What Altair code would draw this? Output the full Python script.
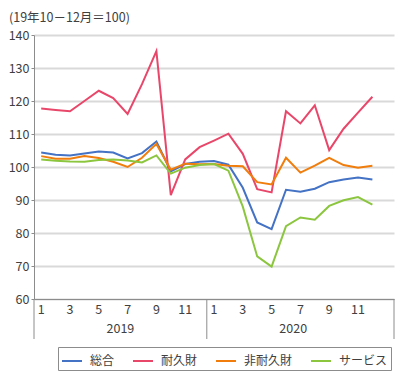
import altair as alt
import pandas as pd

FONT = "Noto Sans CJK JP"

title_text = "(19年10－12月＝100)"
years = ["2019", "2020"]
month_ticks = [1, 3, 5, 7, 9, 11]
series_names = ["総合", "耐久財", "非耐久財", "サービス"]
colors = ["#4472C4", "#E8476A", "#F07D0C", "#8CC63F"]

sogo = [104.4, 103.7, 103.5, 104.1, 104.7, 104.4, 102.6, 104.2, 107.7, 98.7, 100.9, 101.6,
        101.8, 100.7, 93.7, 83.2, 81.2, 93.1, 92.5, 93.4, 95.4, 96.2, 96.8, 96.2]
durable = [117.7, 117.3, 116.9, 120.0, 123.1, 120.9, 116.1, 125.1, 135.1, 91.5, 102.3, 106.0,
           108.0, 110.1, 104.0, 93.3, 92.3, 116.9, 113.2, 118.7, 105.1, 111.6, 116.5, 121.3]
nondurable = [103.3, 102.5, 102.5, 103.3, 102.7, 101.6, 100.0, 102.8, 107.0, 99.2, 101.0, 100.8,
              100.9, 100.4, 100.2, 95.4, 94.7, 102.8, 98.3, 100.4, 102.8, 100.6, 99.8, 100.4]
services = [102.3, 101.9, 101.7, 101.6, 102.1, 102.3, 102.0, 101.4, 103.5, 98.0, 99.8, 100.6,
            100.9, 98.9, 88.0, 72.9, 69.8, 82.1, 84.7, 84.0, 88.2, 89.9, 90.9, 88.6]

W, H = 360, 264

n_months = len(sogo)
rows = []
for name, vals in zip(series_names, [sogo, durable, nondurable, services]):
    for i, v in enumerate(vals):
        rows.append({"pos": i + 0.5, "series": name, "value": v})
df = pd.DataFrame(rows)

month_df = pd.DataFrame([{"pos": y * 12 + m - 0.5, "label": str(m)}
                         for y in range(len(years)) for m in month_ticks])
year_df = pd.DataFrame({"year": years, "pos": [k * 12 + 6 for k in range(len(years))]})
sep_df = pd.DataFrame({"pos": [0, 12, n_months + 1]})
title_df = pd.DataFrame({"t": [title_text]})

xscale = alt.Scale(domain=[0, n_months + 1], nice=False, zero=False)

lines = alt.Chart(df).mark_line(strokeWidth=2).encode(
    x=alt.X("pos:Q", scale=xscale,
            axis=alt.Axis(labels=False, title=None, grid=False, ticks=False,
                          domainColor="#8c8c8c")),
    y=alt.Y("value:Q", scale=alt.Scale(domain=[60, 140], nice=False, zero=False),
            axis=alt.Axis(values=list(range(60, 141, 10)), title=None,
                          gridColor="#d9d9d9", gridWidth=2, domainColor="#8c8c8c",
                          tickColor="#8c8c8c", tickSize=3, labelPadding=2,
                          labelFont=FONT, labelFontSize=12.5, labelColor="#404040")),
    color=alt.Color("series:N", scale=alt.Scale(domain=series_names, range=colors),
                    sort=series_names,
                    legend=alt.Legend(orient="none", legendX=24, legendY=H + 48,
                                      direction="horizontal", title=None,
                                      symbolType="stroke", symbolSize=400,
                                      symbolStrokeWidth=2, labelFont=FONT,
                                      labelFontSize=12, labelColor="#404040",
                                      labelOffset=7, columnPadding=14,
                                      strokeColor="#8c8c8c", padding=3,
                                      fillColor="white")),
)

month_text = alt.Chart(month_df).mark_text(font=FONT, fontSize=12.5, color="#404040",
                                           baseline="middle").encode(
    x=alt.X("pos:Q", scale=xscale), y=alt.value(H + 11), text="label:N")

year_text = alt.Chart(year_df).mark_text(font=FONT, fontSize=12.5, color="#404040",
                                         baseline="middle").encode(
    x=alt.X("pos:Q", scale=xscale), y=alt.value(H + 30), text="year:N")

seps = alt.Chart(sep_df).mark_rule(color="#8c8c8c", strokeWidth=1).encode(
    x=alt.X("pos:Q", scale=xscale), y=alt.value(H), y2=alt.value(H + 40))

title = alt.Chart(title_df).mark_text(font=FONT, fontSize=12.5, color="#404040",
                                      align="left", baseline="top").encode(
    x=alt.value(-25), y=alt.value(-23), text="t:N")

chart = alt.layer(lines, seps, month_text, year_text, title).properties(
    width=W, height=H,
    padding={"left": 0, "top": 4, "right": 0, "bottom": 0}
).configure_view(stroke=None).configure_axis(domainWidth=1)

chart.save("out.html", embed_options={"renderer": "svg", "actions": False})
